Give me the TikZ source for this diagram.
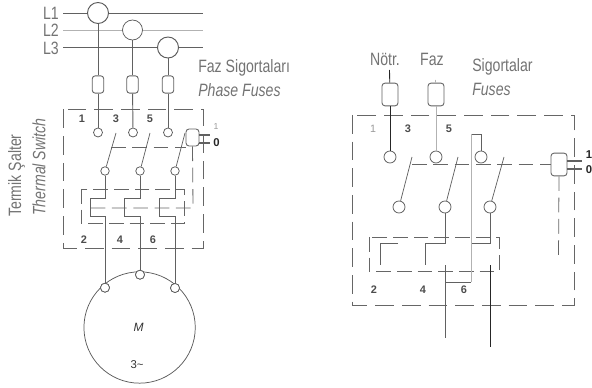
\documentclass[tikz,border=0pt]{standalone}
\usepackage{fontspec}
\setmainfont{Liberation Sans}
\newfontfamily\narrowfont[FakeStretch=0.79]{Liberation Sans}
\definecolor{wire}{gray}{0.38}
\definecolor{lightwire}{gray}{0.7}
\definecolor{txt}{gray}{0.45}
\tikzset{
  wireline/.style={draw=wire,line width=0.7pt},
  blackline/.style={draw=black!85,line width=0.55pt},
  lightline/.style={draw=lightwire,line width=0.55pt},
  thinline/.style={draw=wire,line width=0.55pt},
  dashbox/.style={draw=black!60,line width=0.6pt,dash pattern=on 14pt off 6pt},
  dashlink/.style={draw=black!60,line width=0.6pt,dash pattern=on 11pt off 5pt},
  contact/.style={circle,draw=black!65,fill=white,line width=0.55pt,inner sep=0pt,minimum size=#1*0.75pt},
  fuse/.style={rectangle,rounded corners=2.2pt,draw=black!62,fill=white,line width=0.65pt,inner sep=0pt},
  lab/.style={inner sep=0pt,text=txt,font=\narrowfont\fontsize{13.4}{15}\selectfont},
  num/.style={inner sep=0pt,text=black!70,font=\fontsize{8.2}{9}\bfseries\selectfont},
}
\begin{document}
\begin{tikzpicture}[x=0.75pt,y=-0.75pt]
\useasboundingbox (0,0) rectangle (592,388);
% --- LEFT DIAGRAM ---
\node[lab] at (51,13.5) {L1};
\node[lab] at (51,30) {L2};
\node[lab] at (51,48) {L3};
\coordinate (l1a) at (63,13); \coordinate (l1b) at (203,13);
\coordinate (l2a) at (63,30); \coordinate (l2b) at (203,30);
\coordinate (l3a) at (63,47.5); \coordinate (l3b) at (203,47.5);
\draw[wireline] (l1a) -- (l1b);
\draw[lightline] (l2a) -- (l2b);
\draw[wireline] (l3a) -- (l3b);
\node[contact=21,line width=0.7pt] (c1) at (98,13) {};
\node[contact=20] (c2) at (132.5,30) {};
\node[contact=21,line width=0.7pt] (c3) at (168,47.5) {};
\node[fuse,minimum width=8.6pt,minimum height=13pt] (f1) at (98,84.5) {};
\node[fuse,minimum width=8.6pt,minimum height=13pt] (f2) at (132.5,84.5) {};
\node[fuse,minimum width=8.6pt,minimum height=13pt] (f3) at (168,84.5) {};
\node[lab,anchor=west] at (198,68) {Faz Sigortaları};
\node[lab,anchor=west] at (198,90) {\itshape Phase Fuses};
\draw[dashbox] (63.5,109.5) rectangle (203,248);
\node[contact=9] (t1) at (98,132.5) {};
\node[contact=9] (t2) at (133,132.5) {};
\node[contact=9] (t3) at (168,132.5) {};
\draw[wireline] (c1) -- (f1); \draw[wireline] (f1) -- (t1);
\draw[wireline] (c2) -- (f2); \draw[wireline] (f2) -- (t2);
\draw[wireline] (c3) -- (f3); \draw[wireline] (f3) -- (t3);
\node[num] at (82,119) {1};
\node[num] at (116,119) {3};
\node[num] at (150,119) {5};
\node[contact=8.5] (b1) at (105,171) {};
\node[contact=8.5] (b2) at (140,171) {};
\node[contact=8.5] (b3) at (175,171) {};
\coordinate (bt1) at (116,133); \coordinate (bt2) at (150,133); \coordinate (bt3) at (185,133);
\draw[thinline] (bt1) -- (b1);
\draw[thinline] (bt2) -- (b2);
\draw[thinline] (bt3) -- (b3);
\node[fuse,minimum width=9.7pt,minimum height=12.7pt] (aux) at (192.5,137.5) {};
\coordinate (ln1) at (111,147);
\draw[dashlink] (ln1) -- (aux.south west |- ln1);
\coordinate (o1) at (210,135); \coordinate (o2) at (210,143);
\draw[thinline,line width=0.8pt] (aux.east |- o1) -- (o1);
\draw[thinline,line width=0.8pt] (aux.east |- o2) -- (o2);
\node[inner sep=0pt,text=black!40,font=\fontsize{6.5}{7}\selectfont] at (216,126.5) {1};
\node[num,text=black!85,font=\fontsize{8.5}{9}\bfseries\selectfont] at (216.5,143) {0};
\coordinate (au1) at (193,208); \coordinate (au2) at (87,208);
\draw[dashlink] (aux.south) -- (au1) -- (au2);
\draw[dashbox,dash pattern=on 11pt off 4.5pt] (81,189) rectangle (184.5,223);
\node[contact=9] (m1) at (105,287.7) {};
\node[contact=9] (m2) at (140,274.7) {};
\node[contact=9] (m3) at (175,288) {};
\draw[wireline] (b1) -- (105,198) -- (90,198) -- (90,216) -- (105,216) -- (m1);
\draw[wireline] (b2) -- (140,198) -- (124.5,198) -- (124.5,216) -- (140,216) -- (m2);
\draw[wireline] (b3) -- (175,198) -- (159.5,198) -- (159.5,216) -- (175,216) -- (m3);
\node[num] at (84,240) {2};
\node[num] at (120,240) {4};
\node[num] at (153,240) {6};
\node[circle,draw=black!65,line width=0.55pt,inner sep=0pt,minimum size=83.5pt] (motor) at (139.6,327.5) {};
\node[contact=9] at (m1) {};
\node[contact=9] at (m2) {};
\node[contact=9] at (m3) {};
\node[inner sep=0pt,text=black!80,font=\fontsize{9}{10}\itshape\selectfont] at (138.5,327) {M};
\node[inner sep=0pt,text=black!80,font=\fontsize{8.5}{10}\selectfont] at (137,364.5) {3\textasciitilde};
\node[lab,rotate=90,anchor=west] at (16.5,217) {Termik Şalter};
\node[lab,rotate=90,anchor=west] at (39,216) {\itshape Thermal Switch};
% --- RIGHT DIAGRAM ---
\node[lab] at (385,59) {Nötr.};
\node[lab] at (432,59) {Faz};
\node[lab,anchor=west] at (472,67) {Sigortalar};
\node[lab,anchor=west] at (472,89) {\itshape Fuses};
\draw[dashbox] (352,115) rectangle (574,305);
\node[fuse,minimum width=12pt,minimum height=17pt] (rf1) at (390,94.5) {};
\node[fuse,minimum width=12pt,minimum height=17pt] (rf2) at (436,94.5) {};
\coordinate (n0) at (389.5,70); \coordinate (f0) at (435.5,80);
\node[contact=12] (rc1) at (390,157) {};
\node[contact=12] (rc2) at (436,157) {};
\node[contact=12] (rc3) at (481,157) {};
\draw[blackline,line width=0.65pt] (n0) -- (rf1);
\draw[blackline,line width=0.65pt] (rf1) -- (rc1);
\draw[lightline] (f0) -- (rf2);
\draw[lightline] (rf2) -- (rc2);
\node[inner sep=0pt,text=black!40,font=\fontsize{8}{9}\selectfont] at (373,129) {1};
\node[num] at (408,129) {3};
\node[num] at (449,129) {5};
\node[contact=12] (rb1) at (399,207) {};
\node[contact=12] (rb2) at (445,207) {};
\node[contact=12] (rb3) at (490,207) {};
\coordinate (rt1) at (412,157); \coordinate (rt2) at (458,157); \coordinate (rt3) at (504,157);
\draw[thinline] (rt1) -- (rb1);
\draw[thinline] (rt2) -- (rb2);
\draw[thinline] (rt3) -- (rb3);
\node[fuse,minimum width=12pt,minimum height=17pt] (raux) at (559,164.5) {};
\coordinate (rl) at (412,164);
\draw[dashlink] (rl) -- (raux.west |- rl);
\coordinate (ro1) at (582,161); \coordinate (ro2) at (582,169);
\draw[thinline,line width=0.8pt] (raux.east |- ro1) -- (ro1);
\draw[thinline,line width=0.8pt] (raux.east |- ro2) -- (ro2);
\node[num,text=black!85,font=\fontsize{8.5}{9}\bfseries\selectfont] at (589,155) {1};
\node[num,text=black!85,font=\fontsize{8.5}{9}\bfseries\selectfont] at (589,170) {0};
\coordinate (rau) at (558.5,256);
\draw[dashlink] (raux.south) -- (rau);
\draw[dashbox,dash pattern=on 11pt off 4.5pt] (369,237) rectangle (499,271);
\coordinate (h1) at (398,243); \coordinate (h2) at (380,243); \coordinate (h3) at (380,265);
\draw[wireline] (h1) -- (h2) -- (h3);
\coordinate (i1) at (445,243); \coordinate (i2) at (425,243); \coordinate (i3) at (425,265);
\draw[wireline] (rb2) -- (i1) -- (i2) -- (i3);
\coordinate (j1) at (490,243); \coordinate (j2) at (472,243);
\draw[wireline] (rb3) -- (j1) -- (j2);
\coordinate (k1) at (481,134); \coordinate (k2) at (471,134); \coordinate (k3) at (471,282); \coordinate (k4) at (445,282);
\draw[thinline] (rc3) -- (k1) -- (k2);
\draw[lightline] (k2) -- (k3);
\draw[wireline] (k3) -- (k4);
\coordinate (d1) at (445,265); \coordinate (d2) at (445,338);
\draw[wireline] (d1) -- (d2);
\coordinate (e1) at (490,265); \coordinate (e2) at (490,347);
\draw[blackline] (e1) -- (e2);
\node[num] at (374,290) {2};
\node[num] at (423,290) {4};
\node[num] at (464,290) {6};
\end{tikzpicture}
\end{document}
